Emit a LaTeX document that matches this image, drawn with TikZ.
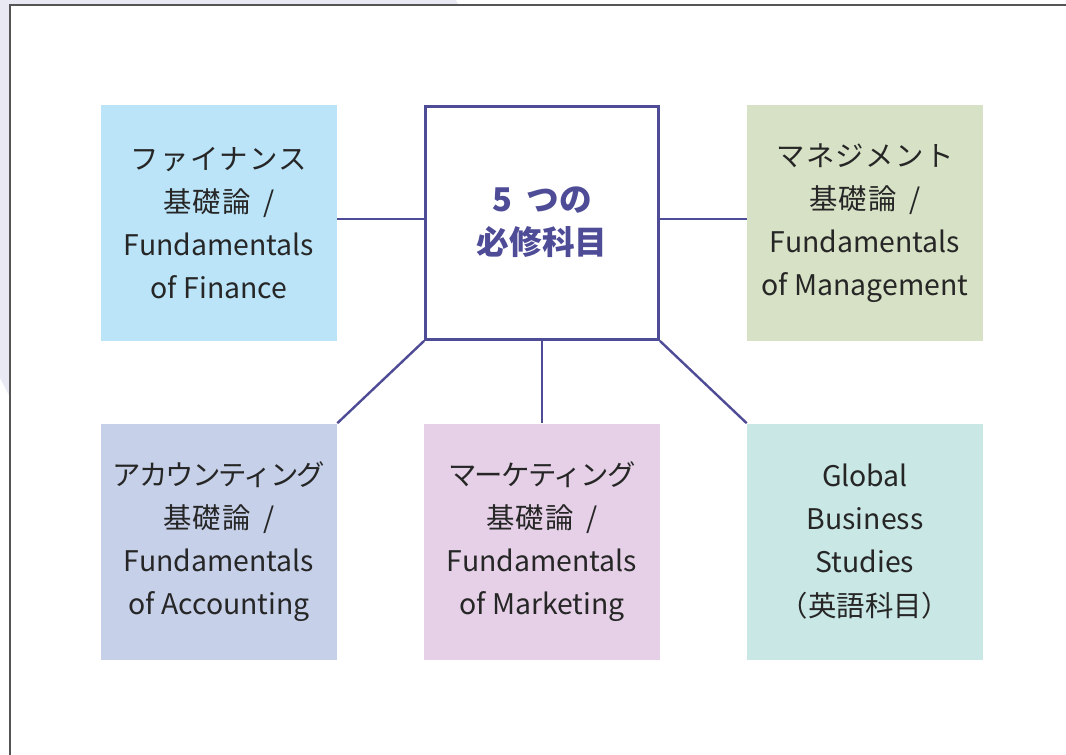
\documentclass[tikz,border=0pt]{standalone}
\usepackage{fontspec}
\setmainfont{Noto Sans CJK JP}

\definecolor{bgpale}{HTML}{E9E9F3}
\definecolor{framegray}{HTML}{555555}
\definecolor{corepurple}{HTML}{4E4B97}
\definecolor{finblue}{HTML}{BBE4F8}
\definecolor{mgmtgreen}{HTML}{D7E1C5}
\definecolor{acctblue}{HTML}{C6D0E9}
\definecolor{mktgpink}{HTML}{E5D0E7}
\definecolor{gbsteal}{HTML}{C9E7E5}

% kana lines get their own tracking, so long ones still fit the box
\newcommand\kana[2][5]{{\addfontfeature{LetterSpace=#1}#2}}
\newcommand\kiso{\kana{基礎論}\hspace{0.45em}/}

\tikzset{
  subject/.style={minimum width=177pt, minimum height=177pt, inner sep=0pt,
    align=center, text=black!85, font=\fontsize{21.3}{32.3}\selectfont},
  core/.style={draw=corepurple, line width=1.8pt, fill=white,
    minimum width=175pt, minimum height=175pt, inner sep=0pt, align=center,
    text=corepurple, font=\bfseries\fontsize{24.5}{32.3}\selectfont},
  link/.style={draw=corepurple, line width=1.8pt}
}

\begin{document}
\begin{tikzpicture}[x=0.75pt, y=-0.75pt]
  \useasboundingbox (0,0) rectangle (1066,755);

  % pale backdrop peeking out behind the card
  \fill[bgpale] (0,0) -- (456,0) -- (470,30) -- (22,420) -- (0,378) -- cycle;

  % white card with its frame on the top and left
  \fill[white] (10,5) rectangle (1066,755);
  \draw[framegray, line width=1pt] (10,760) -- (10,5) -- (1070,5);

  % the five subjects
  \node[subject, fill=finblue] (fin) at (219,223)
    {\kana{ファイナンス}\\\kiso\\Fundamentals\\of Finance};
  \node[subject, fill=mgmtgreen] (mgmt) at (865,223)
    {\kana{マネジメント}\\\kiso\\Fundamentals\\of Management};
  \node[subject, fill=acctblue] (acct) at (219,541.5)
    {\kana[-6.5]{アカウンティング}\\\kiso\\Fundamentals\\of Accounting};
  \node[subject, fill=mktgpink] (mktg) at (542,541.5)
    {\kana[-5]{マーケティング}\\\kiso\\Fundamentals\\of Marketing};
  \node[subject, fill=gbsteal] (gbs) at (865,541.5)
    {Global\\Business\\Studies\\\kana[0]{（英語科目）}};

  % centre box
  \node[core] (core) at (542,223)
    {\raisebox{3pt}{5\hspace{0.45em}つの}\\\raisebox{3pt}{必修科目}};

  % links to the centre
  \draw[link] ([yshift=3pt]fin.east) -- ([yshift=3pt]core.west);
  \draw[link] ([yshift=3pt]core.east) -- ([yshift=3pt]mgmt.west);
  \draw[link] (core.south west) -- (acct.north east);
  \draw[link] (core.south) -- (mktg.north);
  \draw[link] (core.south east) -- (gbs.north west);
\end{tikzpicture}
\end{document}
